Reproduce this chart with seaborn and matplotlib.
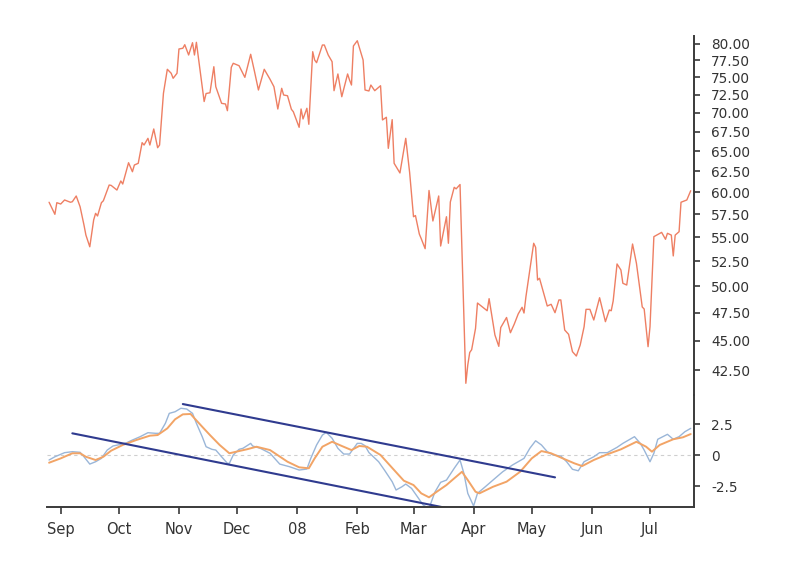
import matplotlib
matplotlib.use("Agg")
import matplotlib.pyplot as plt
import seaborn as sns
import pandas as pd
from matplotlib.ticker import FixedLocator, FixedFormatter, NullLocator

# ---------------- data (days counted from 2007-09-01) ----------------
START = "2007-09-01"

price_day = [
    -6, -3, -2, 0, 2, 5, 6, 8, 10, 12,
    13, 15, 17, 18, 19, 21, 22, 25, 26, 29,
    31, 32, 35, 37, 38, 40, 42, 43, 45, 46,
    48, 50, 51, 53, 55, 57, 58, 60, 61, 63,
    64, 66, 68, 69, 70, 74, 75, 77, 79, 80,
    83, 85, 86, 88, 89, 92, 95, 98, 100, 102,
    105, 108, 110, 112, 114, 115, 117, 119, 120, 123,
    124, 125, 127, 128, 130, 131, 132, 135, 136, 138,
    140, 141, 143, 145, 148, 149, 150, 151, 153, 156,
    157, 159, 160, 162, 165, 166, 168, 169, 171, 172,
    175, 178, 180, 182, 183, 185, 186, 188, 190, 192,
    195, 196, 199, 200, 201, 203, 204, 206, 209, 210,
    211, 212, 214, 215, 220, 221, 224, 226, 227, 230,
    232, 234, 236, 238, 239, 240, 244, 245, 246, 247,
    251, 253, 255, 257, 258, 260, 262, 264, 266, 268,
    270, 271, 273, 275, 278, 281, 283, 284, 285, 287,
    289, 290, 292, 295, 297, 300, 301, 303, 304, 306,
    310, 312, 313, 315, 316, 317, 319, 320, 323, 325,
]
price_close = [
    58.85, 57.49, 58.80, 58.65, 59.11, 58.85, 58.91, 59.57, 58.34, 56.31,
    55.22, 53.98, 56.86, 57.60, 57.30, 58.80, 59.02, 60.85, 60.81, 60.26,
    61.33, 60.97, 63.54, 62.44, 63.26, 63.47, 66.06, 65.76, 66.62, 65.76,
    67.84, 65.42, 65.76, 72.70, 76.17, 75.58, 74.85, 75.58, 79.23, 79.34,
    79.89, 78.31, 80.20, 78.31, 80.26, 71.55, 72.67, 72.78, 76.55, 73.64,
    71.30, 71.21, 70.29, 76.46, 77.06, 76.70, 74.99, 78.42, 75.81, 73.17,
    76.17, 74.70, 73.64, 70.52, 73.41, 72.46, 72.36, 70.48, 70.15, 68.06,
    70.52, 69.17, 70.62, 68.46, 78.81, 77.55, 77.15, 79.84, 79.84, 78.31,
    77.30, 73.07, 75.48, 72.22, 75.48, 74.60, 73.88, 79.69, 80.51, 77.55,
    73.17, 73.03, 73.88, 73.07, 73.78, 69.04, 69.40, 65.34, 69.08, 63.47,
    62.29, 66.62, 62.35, 57.22, 57.35, 55.33, 54.83, 53.78, 60.21, 56.75,
    59.57, 54.06, 57.22, 54.35, 58.88, 60.58, 60.40, 60.91, 41.42, 42.92,
    43.97, 44.21, 46.08, 48.40, 47.68, 48.81, 45.49, 44.50, 46.15, 47.06,
    45.69, 46.47, 47.38, 48.00, 47.47, 49.00, 54.35, 53.92, 50.61, 50.78,
    48.12, 48.28, 47.50, 48.69, 48.69, 45.93, 45.55, 44.04, 43.67, 44.62,
    46.22, 47.81, 47.81, 46.83, 48.90, 46.68, 47.75, 47.68, 48.59, 52.21,
    51.60, 50.29, 50.12, 54.27, 52.28, 48.03, 47.84, 44.47, 46.22, 55.05,
    55.51, 54.77, 55.41, 55.22, 53.03, 55.22, 55.58, 58.85, 59.11, 60.18,
]

macd_day = [
    -6, -3, 2, 6, 10, 12, 15, 18, 21, 24,
    27, 31, 34, 37, 41, 45, 49, 51, 54, 56,
    59, 62, 65, 68, 70, 73, 75, 78, 80, 83,
    86, 87, 89, 92, 94, 98, 99, 103, 108, 113,
    118, 123, 127, 129, 132, 135, 137, 140, 143, 146,
    149, 153, 155, 157, 159, 164, 167, 171, 173, 176,
    178, 181, 184, 187, 190, 193, 196, 199, 203, 206,
    208, 210, 213, 215, 219, 223, 228, 233, 239, 242,
    245, 248, 251, 254, 258, 261, 264, 267, 270, 275,
    278, 282, 287, 290, 293, 296, 299, 301, 304, 306,
    308, 313, 316, 319, 322, 325,
]
macd_val = [
    -0.40, -0.14, 0.19, 0.27, 0.22, -0.14, -0.73, -0.54, -0.27, 0.40,
    0.73, 0.86, 0.99, 1.21, 1.48, 1.80, 1.75, 1.75, 2.56, 3.36,
    3.49, 3.77, 3.71, 3.36, 2.56, 1.48, 0.67, 0.46, 0.40, -0.14,
    -0.67, -0.67, 0.00, 0.46, 0.54, 0.94, 0.73, 0.54, 0.14, -0.73,
    -0.94, -1.21, -1.13, -0.27, 0.81, 1.61, 1.83, 1.35, 0.54, 0.08,
    0.08, 0.94, 0.94, 0.75, 0.20, -0.54, -1.21, -2.15, -2.82, -2.56,
    -2.34, -2.69, -3.36, -4.03, -4.30, -3.00, -2.20, -2.02, -1.07, -0.40,
    -1.48, -3.09, -4.11, -3.09, -2.56, -2.02, -1.35, -0.81, -0.27, 0.54,
    1.15, 0.81, 0.27, 0.00, -0.08, -0.54, -1.15, -1.27, -0.54, -0.14,
    0.19, 0.19, 0.62, 0.94, 1.21, 1.48, 0.94, 0.40, -0.54, 0.14,
    1.27, 1.67, 1.27, 1.48, 1.88, 2.15,
]

signal_day = [
    -6, 0, 6, 10, 13, 18, 22, 26, 32, 39,
    46, 50, 55, 59, 63, 67, 69, 73, 77, 82,
    87, 92, 96, 101, 108, 117, 123, 128, 131, 135,
    140, 145, 150, 154, 158, 165, 172, 177, 182, 186,
    190, 194, 199, 203, 207, 210, 214, 216, 223, 230,
    237, 243, 248, 253, 259, 265, 269, 275, 282, 289,
    297, 302, 305, 309, 316, 321, 325,
]
signal_val = [
    -0.62, -0.27, 0.14, 0.14, -0.14, -0.40, -0.14, 0.35, 0.81, 1.21,
    1.56, 1.61, 2.15, 2.88, 3.28, 3.31, 2.96, 2.28, 1.61, 0.81,
    0.14, 0.32, 0.46, 0.67, 0.40, -0.54, -0.99, -1.07, -0.27, 0.67,
    1.07, 0.73, 0.40, 0.73, 0.67, 0.00, -1.21, -2.07, -2.42, -3.09,
    -3.41, -2.96, -2.42, -1.88, -1.35, -2.02, -2.96, -3.09, -2.56, -2.15,
    -1.35, -0.27, 0.32, 0.14, -0.27, -0.67, -0.89, -0.40, 0.06, 0.46,
    1.07, 0.67, 0.27, 0.81, 1.27, 1.43, 1.69,
]

trend_lower_day = [6, 200]
trend_lower_val = [1.75, -4.30]
trend_upper_day = [63, 255]
trend_upper_val = [4.11, -1.80]

tick_dates = ["2007-09-01", "2007-10-01", "2007-11-01", "2007-12-01", "2008-01-01",
              "2008-02-01", "2008-03-01", "2008-04-01", "2008-05-01", "2008-06-01",
              "2008-07-01"]
tick_labels = ["Sep", "Oct", "Nov", "Dec", "08", "Feb", "Mar", "Apr", "May", "Jun", "Jul"]

price_ticks = [42.5, 45.0, 47.5, 50.0, 52.5, 55.0, 57.5, 60.0, 62.5, 65.0,
               67.5, 70.0, 72.5, 75.0, 77.5, 80.0]
macd_ticks = [-2.5, 0, 2.5]
macd_tick_labels = ["-2.5", "0", "2.5"]

# ---------------- build frames ----------------
base = pd.Timestamp(START)
def to_dates(days):
    return base + pd.to_timedelta(days, unit="D")

df_price = pd.DataFrame({"date": to_dates(price_day), "close": price_close})
df_macd = pd.DataFrame({"date": to_dates(macd_day), "value": macd_val})
df_sig = pd.DataFrame({"date": to_dates(signal_day), "value": signal_val})
df_tl = pd.DataFrame({"date": to_dates(trend_lower_day), "value": trend_lower_val})
df_tu = pd.DataFrame({"date": to_dates(trend_upper_day), "value": trend_upper_val})

# ---------------- style ----------------
sns.set_theme(style="ticks")
plt.rcParams["font.family"] = ["DejaVu Sans"]
AX_COLOR = "#3a3a3a"

W, H = 785, 570
fig = plt.figure(figsize=(W / 100, H / 100), dpi=100)
left, right = 47, 694
ax_p = fig.add_axes([left / W, (H - 395) / H, (right - left) / W, (395 - 36) / H])
ax_m = fig.add_axes([left / W, (H - 507) / H, (right - left) / W, (507 - 395) / H], sharex=ax_p)

# price panel
sns.lineplot(data=df_price, x="date", y="close", ax=ax_p, color="#ee7f63",
             lw=1.0, estimator=None, sort=False)
ax_p.set_yscale("log")
ax_p.set_ylim(40.49, 81.25)
ax_p.yaxis.set_major_locator(FixedLocator(price_ticks))
ax_p.yaxis.set_major_formatter(FixedFormatter([f"{t:.2f}" for t in price_ticks]))
ax_p.yaxis.set_minor_locator(NullLocator())

# macd panel
ax_m.axhline(0, color="#cfcfcf", lw=0.8, ls=(0, (3, 3)), zorder=1)
sns.lineplot(data=df_macd, x="date", y="value", ax=ax_m, color="#9ab6d8",
             lw=1.0, estimator=None, sort=False)
sns.lineplot(data=df_sig, x="date", y="value", ax=ax_m, color="#f2a466",
             lw=1.4, estimator=None, sort=False)
sns.lineplot(data=df_tl, x="date", y="value", ax=ax_m, color="#2f3b8f",
             lw=1.5, estimator=None, sort=False)
sns.lineplot(data=df_tu, x="date", y="value", ax=ax_m, color="#2f3b8f",
             lw=1.5, estimator=None, sort=False)
ax_m.set_ylim(-4.19, 4.84)
ax_m.yaxis.set_major_locator(FixedLocator(macd_ticks))
ax_m.yaxis.set_major_formatter(FixedFormatter(macd_tick_labels))

x0 = base + pd.Timedelta(days=-7.07)
x1 = base + pd.Timedelta(days=326.7)
ax_m.set_xlim(x0, x1)
ax_m.xaxis.set_major_locator(FixedLocator([matplotlib.dates.date2num(pd.Timestamp(d)) for d in tick_dates]))
ax_m.xaxis.set_major_formatter(FixedFormatter(tick_labels))
ax_m.xaxis.set_minor_locator(NullLocator())

for ax in (ax_p, ax_m):
    ax.set_xlabel("")
    ax.set_ylabel("")
    ax.spines["top"].set_visible(False)
    ax.spines["left"].set_visible(False)
    ax.spines["right"].set_visible(True)
    ax.spines["right"].set_color(AX_COLOR)
    ax.spines["right"].set_linewidth(1.4)
    ax.yaxis.tick_right()
    ax.tick_params(axis="y", which="major", right=True, left=False, length=4.5,
                   width=1.2, pad=8, labelsize=9.8, color=AX_COLOR, labelcolor="#333333")
    ax.patch.set_alpha(0)

ax_p.spines["bottom"].set_visible(False)
ax_p.tick_params(axis="x", bottom=False, labelbottom=False)
ax_m.spines["bottom"].set_color(AX_COLOR)
ax_m.spines["bottom"].set_linewidth(1.4)
ax_m.tick_params(axis="x", which="major", bottom=True, length=5, width=1.2, pad=6,
                 labelsize=10.5, color=AX_COLOR, labelcolor="#333333")

fig.savefig("out.png", dpi=100)
